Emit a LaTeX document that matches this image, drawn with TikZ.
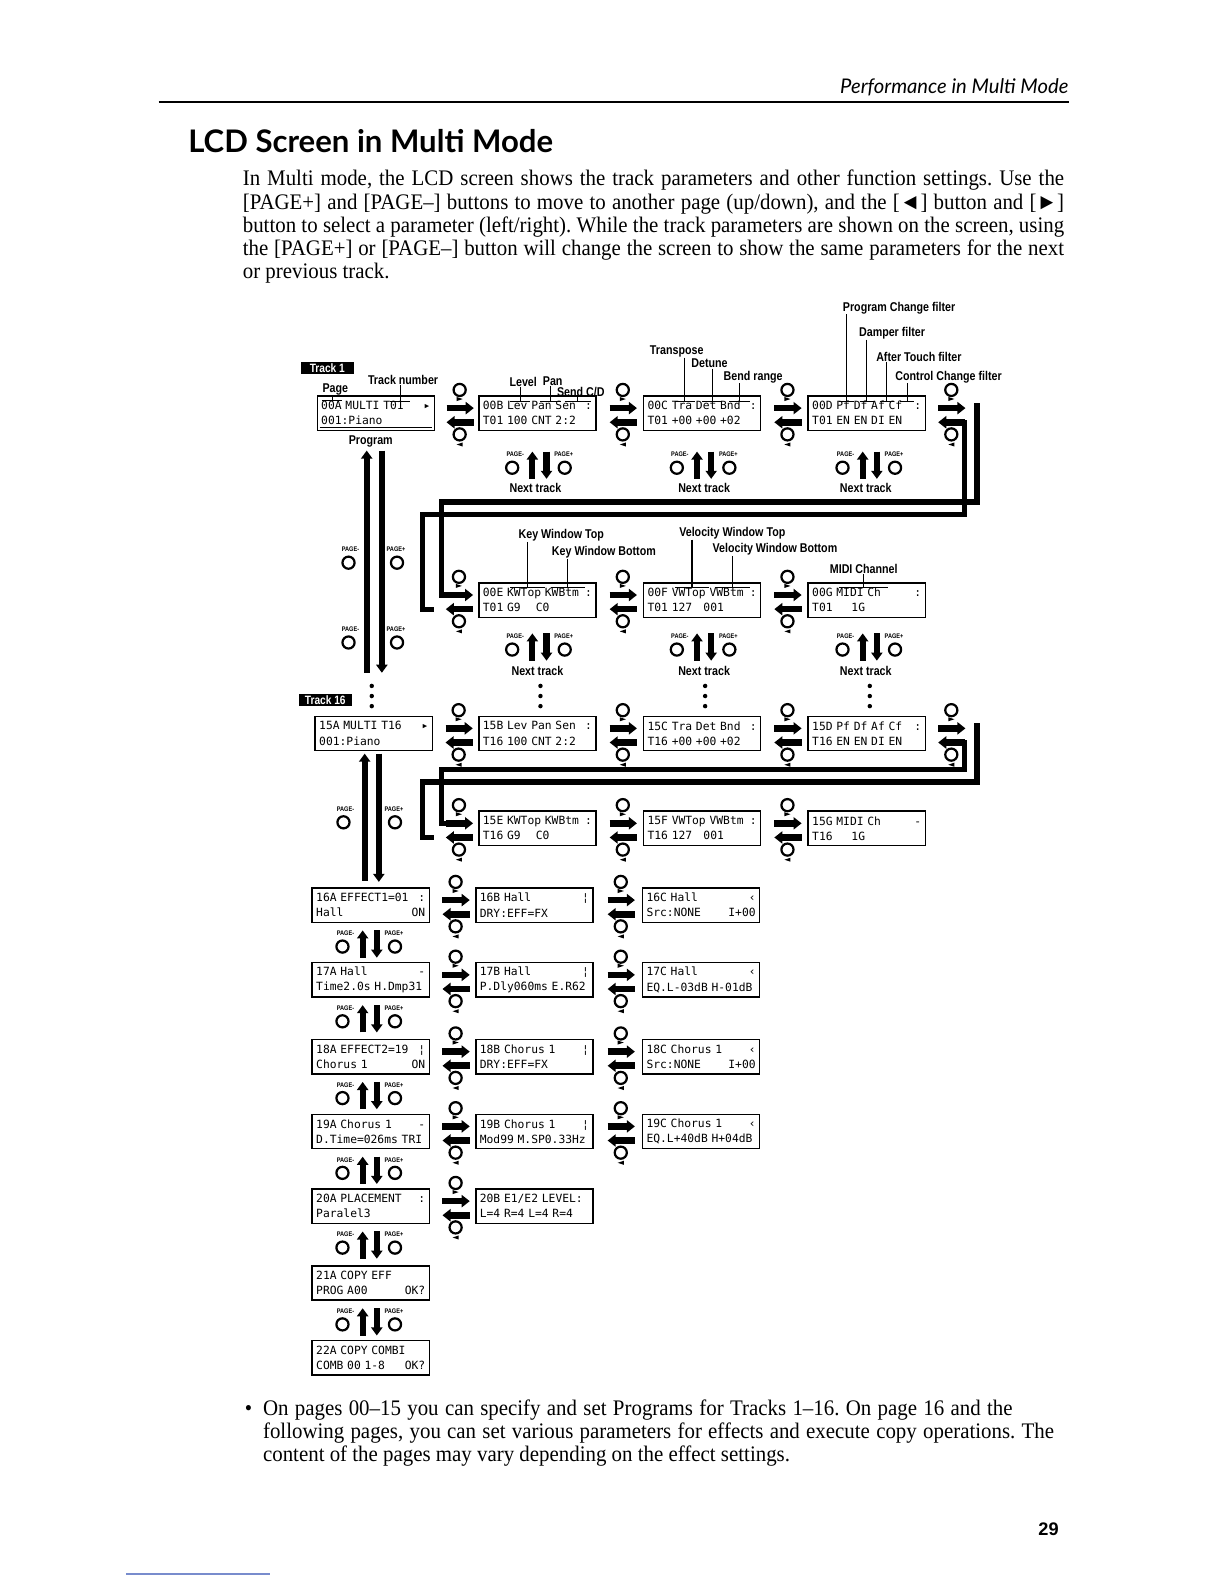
\documentclass[tikz,border=0pt]{standalone}
\usepackage{fontspec}
\setmainfont{Liberation Serif}[FakeStretch=0.94]
\newfontfamily\lcdfont{DejaVu Sans Mono}
\newfontfamily\labfont{Liberation Sans}[FakeStretch=0.84]
\newfontfamily\titlefont{Lato}
\newfontfamily\numfont{Liberation Sans}
\usetikzlibrary{arrows.meta,calc}
\frenchspacing

\definecolor{linkblue}{RGB}{120,140,205}

% type of the LCD pages, one fixed cell per character
\newcommand{\lcdtype}{\lcdfont\fontsize{5.6}{7.5}\selectfont
  \fontdimen2\font=3.371pt\fontdimen3\font=0pt\fontdimen4\font=0pt
  \spaceskip 3.371pt\relax}

% LCD pages and the buttons between them
\tikzset{
  lcd/.style={draw, line width=0.7pt, text width=54pt, align=left,
    minimum height=17pt, inner xsep=2pt, inner ysep=1pt, font=\lcdtype},
  lab/.style={inner sep=0pt, font=\labfont\bfseries\fontsize{6.3}{6.3}\selectfont},
  pglab/.style={inner sep=0pt, font=\labfont\bfseries\fontsize{3.3}{3.3}\selectfont},
  tracklab/.style={fill=black, text=white, inner sep=0pt,
    minimum width=26pt, minimum height=6pt,
    font=\labfont\bfseries\fontsize{6}{6}\selectfont},
  txt/.style={anchor=base west, inner sep=0pt, font=\fontsize{11}{11}\selectfont},
  blk/.style={line width=3.3pt, -{Triangle[length=4pt,width=6pt]}},
  navarr/.style={line width=3pt, -{Triangle[length=4pt,width=5.5pt]}},
  loopline/.style={line width=2.6pt, line join=miter},
  btn/.style={line width=1.1pt},
  lead/.style={line width=0.5pt},
}

% right end of an LCD line
\newcommand{\lcdfill}{\hskip 0pt plus 1filll\relax}

% [<] [>] buttons and arrows in a gap, #1 = gap centre
\newcommand{\lrpair}[1]{%
  \begin{scope}[shift={#1}]
    \draw[blk] (-10,-5) -- (17,-5);
    \draw[blk] (17,9) -- (-10,9);
    \draw[btn] (3,-23) circle (6);
    \fill (0,-16) -- (6,-14) -- (0,-12) -- cycle;
    \draw[btn] (3,21) circle (6);
    \fill (6,29) -- (0,31) -- (6,33) -- cycle;
  \end{scope}}

% PAGE- / PAGE+ buttons, #1 = centre x, #2 = top y
\newcommand{\udpair}[2]{%
  \begin{scope}[shift={(#1,#2)}]
    \draw[navarr] (-7,27) -- (-7,0);
    \draw[navarr] (7,0) -- (7,27);
    \draw[btn] (-27,16) circle (6);
    \draw[btn] (25,16) circle (6);
    \node[pglab] at (-24,3) {PAGE-};
    \node[pglab] at (24,3) {PAGE+};
  \end{scope}}

% leader from a label down to the bar over a parameter
\newcommand{\param}[3]{%
  \draw[lead] (#1.south -| #2) -- (#2) ($(#2)+(-#3,0)$) -- ($(#2)+(#3,0)$);}

\begin{document}
\begin{tikzpicture}[x=0.5pt,y=-0.5pt]
\useasboundingbox (0,0) rectangle (1212,1568);

% page head
\node[anchor=base east, inner sep=0pt, font=\titlefont\itshape\fontsize{10}{10}\selectfont] (head) at (1058,93) {Performance in Multi Mode};
\draw[line width=0.7pt] (157,101) -- (1058,101);
\node[anchor=base west, inner sep=0pt, font=\titlefont\bfseries\fontsize{15.4}{15.4}\selectfont] (title) at (186,151) {LCD Screen in Multi Mode};

% intro paragraph
\node[txt] (par1) at (240,184) {\makebox[406.5pt][s]{In Multi mode, the LCD screen shows the track parameters and other function settings. Use the}};
\node[txt] (par2) at (240,207) {\makebox[406.5pt][s]{[PAGE+] and [PAGE--] buttons to move to another page (up/down), and the [◄] button and [►]}};
\node[txt] (par3) at (240,230) {\makebox[406.5pt][s]{button to select a parameter (left/right). While the track parameters are shown on the screen, using}};
\node[txt] (par4) at (240,253) {\makebox[406.5pt][s]{the [PAGE+] or [PAGE--] button will change the screen to show the same parameters for the next}};
\node[txt] (par5) at (240,276) {or previous track.};

% Track 1 pages
\node[tracklab] (trk1) at (324,364) {Track 1};
\node[lcd] (p00A) at (372,409) {00A MULTI T01\lcdfill▸\\001:Piano};
\node[lcd] (p00B) at (532,409) {00B Lev Pan Sen\lcdfill:\\T01 100 CNT 2:2};
\node[lcd] (p00C) at (695,409) {00C Tra Det Bnd\lcdfill:\\T01 +00 +00 +02};
\node[lcd] (p00D) at (858,409) {00D Pf Df Af Cf\lcdfill:\\T01 EN EN DI EN};
\node[lcd] (p00E) at (532,594) {00E KWTop KWBtm\lcdfill:\\T01 G9~~~~C0};
\node[lcd] (p00F) at (695,594) {00F VWTop VWBtm\lcdfill:\\T01 127~~~001};
\node[lcd] (p00G) at (858,594) {00G MIDI Ch\lcdfill:\\T01~~~~~1G};
\draw[lead] ($(p00A.south west)+(3,-4)$) -- ($(p00A.south east)+(-3,-4)$);

% parameter names
\node[lab] (lPage) at (332,386) {Page};
\node[lab] (lTrk) at (399,376) {Track number};
\node[lab] (lProg) at (367,437) {Program};
\node[lab,anchor=west] (lLev) at (504,378) {Level};
\node[lab,anchor=west] (lPan) at (537,377) {Pan};
\node[lab,anchor=west] (lSen) at (551,388) {Send C/D};
\node[lab,anchor=west] (lTra) at (643,348) {Transpose};
\node[lab,anchor=west] (lDet) at (684,360) {Detune};
\node[lab,anchor=west] (lBnd) at (716,373) {Bend range};
\node[lab,anchor=west] (lPf) at (834,305) {Program Change filter};
\node[lab,anchor=west] (lDf) at (850,330) {Damper filter};
\node[lab,anchor=west] (lAf) at (867,353) {After Touch filter};
\node[lab,anchor=west] (lCf) at (886,373) {Control Change filter};
\node[lab,anchor=west] (lKWT) at (513,530) {Key Window Top};
\node[lab,anchor=west] (lKWB) at (546,547) {Key Window Bottom};
\node[lab,anchor=west] (lVWT) at (672,528) {Velocity Window Top};
\node[lab,anchor=west] (lVWB) at (705,544) {Velocity Window Bottom};
\node[lab] (lMidi) at (855,563) {MIDI Channel};

\coordinate (bPage) at (329,396);
\coordinate (bTrk) at (396,397);
\coordinate (bLev) at (515,397);
\coordinate (bPan) at (545,397);
\coordinate (bSen) at (572,397);
\coordinate (bTra) at (678,397);
\coordinate (bDet) at (705,397);
\coordinate (bBnd) at (732,397);
\coordinate (bPf) at (838,397);
\coordinate (bDf) at (858,397);
\coordinate (bAf) at (878,397);
\coordinate (bCf) at (898,397);
\coordinate (bKWT) at (522,582);
\coordinate (bKWB) at (562,582);
\coordinate (bVWT) at (685,582);
\coordinate (bVWB) at (725,582);
\coordinate (bMidi) at (855,582);
\param{lPage}{bPage}{10}
\param{lTrk}{bTrk}{10}
\param{lLev}{bLev}{10}
\param{lPan}{bPan}{10}
\param{lSen}{bSen}{13}
\param{lTra}{bTra}{10}
\param{lDet}{bDet}{10}
\param{lBnd}{bBnd}{10}
\param{lPf}{bPf}{7}
\param{lDf}{bDf}{7}
\param{lAf}{bAf}{7}
\param{lCf}{bCf}{7}
\param{lKWT}{bKWT}{17}
\param{lKWB}{bKWB}{17}
\param{lVWT}{bVWT}{17}
\param{lVWB}{bVWB}{17}
\param{lMidi}{bMidi}{24}

% left/right buttons
\lrpair{($(p00A.east)!.5!(p00B.west)$)}
\lrpair{($(p00B.east)!.5!(p00C.west)$)}
\lrpair{($(p00C.east)!.5!(p00D.west)$)}
\lrpair{($(p00D.east)+(22,0)$)}
\lrpair{($(p00E.west)+(-22,0)$)}
\lrpair{($(p00E.east)!.5!(p00F.west)$)}
\lrpair{($(p00F.east)!.5!(p00G.west)$)}

% wrap from 00D to 00E and back
\draw[loopline] (967,399) |- (437,497) |- (444,589);
\draw[loopline] (950,418) -| (955,509) -| (418,603) -- (430,603);

% next track
\udpair{534}{447} \udpair{697}{447} \udpair{861}{447}
\udpair{534}{627} \udpair{697}{627} \udpair{861}{627}
\node[lab] (nt1) at (530,483) {Next track};
\node[lab] (nt2) at (697,483) {Next track};
\node[lab] (nt3) at (857,483) {Next track};
\node[lab] (nt4) at (532,664) {Next track};
\node[lab] (nt5) at (697,664) {Next track};
\node[lab] (nt6) at (857,664) {Next track};

% page 00A up and down
\draw[navarr] (363,666) -- (363,446);
\draw[navarr] (378,446) -- (378,666);
\foreach \y in {557,636} {
  \draw[btn] (345,\y) circle (6);
  \draw[btn] (393,\y) circle (6);
  \node[pglab] at (347,\y-13) {PAGE-};
  \node[pglab] at (392,\y-13) {PAGE+};
}

% dots down to track 16
\foreach \x in {368,535,698,861}
  \foreach \y in {679,689,699}
    \fill (\x,\y) circle (2.2);

% Track 16 pages
\node[tracklab] (trk16) at (322,693) {Track 16};
\node[lcd] (p15A) at (370,726) {15A MULTI T16\lcdfill▸\\001:Piano};
\node[lcd] (p15B) at (532,726) {15B Lev Pan Sen\lcdfill:\\T16 100 CNT 2:2};
\node[lcd] (p15C) at (695,726) {15C Tra Det Bnd\lcdfill:\\T16 +00 +00 +02};
\node[lcd] (p15D) at (858,726) {15D Pf Df Af Cf\lcdfill:\\T16 EN EN DI EN};
\node[lcd] (p15E) at (532,820) {15E KWTop KWBtm\lcdfill:\\T16 G9~~~~C0};
\node[lcd] (p15F) at (695,820) {15F VWTop VWBtm\lcdfill:\\T16 127~~~001};
\node[lcd] (p15G) at (858,820) {15G MIDI Ch\lcdfill-\\T16~~~~~1G};

\lrpair{($(p15A.east)!.5!(p15B.west)$)}
\lrpair{($(p15B.east)!.5!(p15C.west)$)}
\lrpair{($(p15C.east)!.5!(p15D.west)$)}
\lrpair{($(p15D.east)+(22,0)$)}
\lrpair{($(p15E.west)+(-22,0)$)}
\lrpair{($(p15E.east)!.5!(p15F.west)$)}
\lrpair{($(p15F.east)!.5!(p15G.west)$)}

% wrap from 15D to 15E and back
\draw[loopline] (967,716) |- (418,774) |- (430,829);
\draw[loopline] (950,735) -| (955,762) -| (437,815) -- (444,815);

% page 15A up and down
\draw[navarr] (361,872) -- (361,746);
\draw[navarr] (375,746) -- (375,873);
\draw[btn] (340,814) circle (6);
\draw[btn] (391,814) circle (6);
\node[pglab] at (342,801) {PAGE-};
\node[pglab] at (390,801) {PAGE+};

% effect and copy pages
\node[lcd] (p16A) at (367,896) {16A EFFECT1=01\lcdfill:\\Hall\lcdfill ON};
\node[lcd] (p16B) at (529,896) {16B Hall\lcdfill¦\\DRY:EFF=FX};
\node[lcd] (p16C) at (694,896) {16C Hall\lcdfill‹\\Src:NONE\lcdfill I+00};
\node[lcd] (p17A) at (367,970) {17A Hall\lcdfill-\\Time2.0s H.Dmp31};
\node[lcd] (p17B) at (529,970) {17B Hall\lcdfill¦\\P.Dly060ms E.R62};
\node[lcd] (p17C) at (694,970) {17C Hall\lcdfill‹\\EQ.L-03dB H-01dB};
\node[lcd] (p18A) at (367,1046) {18A EFFECT2=19\lcdfill¦\\Chorus 1\lcdfill ON};
\node[lcd] (p18B) at (529,1046) {18B Chorus 1\lcdfill¦\\DRY:EFF=FX};
\node[lcd] (p18C) at (694,1046) {18C Chorus 1\lcdfill‹\\Src:NONE\lcdfill I+00};
\node[lcd] (p19A) at (367,1120) {19A Chorus 1\lcdfill-\\D.Time=026ms TRI};
\node[lcd] (p19B) at (529,1120) {19B Chorus 1\lcdfill¦\\Mod99 M.SP0.33Hz};
\node[lcd] (p19C) at (694,1120) {19C Chorus 1\lcdfill‹\\EQ.L+40dB H+04dB};
\node[lcd] (p20A) at (367,1194) {20A PLACEMENT\lcdfill:\\Paralel3};
\node[lcd] (p20B) at (529,1194) {20B E1/E2 LEVEL:\\L=4 R=4 L=4 R=4};
\node[lcd] (p21A) at (367,1270) {21A COPY EFF\\PROG A00\lcdfill OK?};
\node[lcd] (p22A) at (367,1344) {22A COPY COMBI\\COMB 00 1-8\lcdfill OK?};

\foreach \r in {16,17,18,19} {
  \lrpair{($(p\r A.east)!.5!(p\r B.west)$)}
  \lrpair{($(p\r B.east)!.5!(p\r C.west)$)}
}
\lrpair{($(p20A.east)!.5!(p20B.west)$)}
\foreach \y in {921,995,1071,1145,1219,1295} {
  \udpair{366}{\y}
}

% note
\node[txt] (bul) at (242,1401) {•};
\node[txt] (bul1) at (260,1401) {\makebox[371pt][s]{On pages 00--15 you can specify and set Programs for Tracks 1--16. On page 16 and the}};
\node[txt] (bul2) at (260,1424) {\makebox[391.5pt][s]{following pages, you can set various parameters for effects and execute copy operations. The}};
\node[txt] (bul3) at (260,1447) {content of the pages may vary depending on the effect settings.};

% foot
\node[anchor=base, inner sep=0pt, font=\numfont\bfseries\fontsize{9}{9}\selectfont] (pgno) at (1038,1520) {29};
\draw[line width=0.6pt, linkblue] (125,1558) -- (267,1558);
\end{tikzpicture}
\end{document}
